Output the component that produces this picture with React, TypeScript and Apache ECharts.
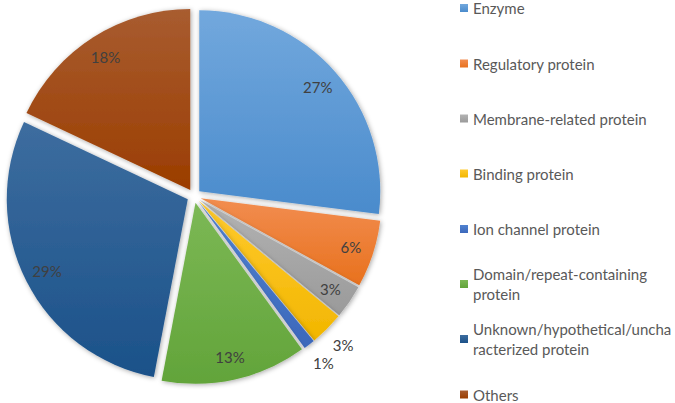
import React, { useEffect, useRef } from "react";
import * as echarts from "echarts";

const categories = [
  "Enzyme",
  "Regulatory protein",
  "Membrane-related protein",
  "Binding protein",
  "Ion channel protein",
  "Domain/repeat-containing protein",
  "Unknown/hypothetical/uncharacterized protein",
  "Others",
];
const legendLabels = [
  "Enzyme",
  "Regulatory protein",
  "Membrane-related protein",
  "Binding protein",
  "Ion channel protein",
  "Domain/repeat-containing\nprotein",
  "Unknown/hypothetical/uncha\nracterized protein",
  "Others",
];
const percentValues = [27, 6, 3, 3, 1, 13, 29, 18];
const topColors = ["#72a8dd", "#f28d50", "#b3b3b3", "#ffca2e", "#5082d0", "#7cb855", "#3d6d9f", "#a85c30"];
const bottomColors = ["#4a8bcc", "#e8711d", "#9a9a9a", "#f2b600", "#3c68bb", "#62a43a", "#1b5189", "#9b3d00"];
const outsideLabels = [false, false, false, true, true, false, false, false];

const CX = 194;
const CY = 196;
const R = 181;

export default function App() {
  const ref = useRef<HTMLDivElement>(null);
  useEffect(() => {
    if (!ref.current) return;
    const chart = echarts.init(ref.current, undefined, { renderer: "svg" });
    const font = "Lato, 'Open Sans', sans-serif";
    const fmt = (p: any) => Math.round(p.percent) + "%";

    const mainData = categories.map((name, i) => ({
      name,
      value: percentValues[i],
      selected: true,
      itemStyle: {
        color: {
          type: "linear",
          x: 0,
          y: 0,
          x2: 0,
          y2: 1,
          colorStops: [
            { offset: 0, color: topColors[i] },
            { offset: 1, color: bottomColors[i] },
          ],
        },
      },
    }));

    const labelData = (outside: boolean) =>
      categories.map((name, i) => ({
        name,
        value: percentValues[i],
        label: { show: outsideLabels[i] === outside },
      }));

    const labelSeries = (radius: number[], outside: boolean) => ({
      type: "pie",
      silent: true,
      center: [CX, CY],
      radius,
      startAngle: 90,
      clockwise: true,
      avoidLabelOverlap: false,
      itemStyle: { color: "rgba(0,0,0,0)", borderWidth: 0 },
      label: {
        position: "inside",
        formatter: fmt,
        color: "#404040",
        fontSize: 15,
        fontFamily: font,
      },
      labelLine: { show: false },
      emphasis: { disabled: true },
      data: labelData(outside),
    });

    const legendTops = [8.5, 64, 119, 174, 229.5, 284.5, 339.5, 395];
    const legends = categories.map((name, i) => {
      const twoLine = legendLabels[i].indexOf("\n") >= 0;
      return {
        data: [
          twoLine
            ? { name, textStyle: { padding: [20, 0, 0, 0] } }
            : { name },
        ],
        orient: "vertical",
        left: 455,
        top: legendTops[i] - (twoLine ? 30 : 10) - 5.5,
        itemWidth: 8,
        itemHeight: 8,
        icon: "rect",
        selectedMode: false,
        formatter: () => legendLabels[i],
        textStyle: {
          color: "#595959",
          fontSize: 15,
          fontFamily: font,
          lineHeight: 20,
        },
      };
    });

    chart.setOption({
      animation: false,
      backgroundColor: "#ffffff",
      legend: legends,
      series: [
        {
          type: "pie",
          center: [CX, CY],
          radius: [0, R],
          startAngle: 90,
          clockwise: true,
          selectedMode: "multiple",
          selectedOffset: 7,
          label: { show: false },
          labelLine: { show: false },
          emphasis: { disabled: true },
          itemStyle: {
            shadowBlur: 5,
            shadowColor: "rgba(0,0,0,0.35)",
            shadowOffsetX: 1,
            shadowOffsetY: 1,
          },
          data: mainData,
        },
        labelSeries([152, 172], false),
        labelSeries([198, 218], true),
      ],
    });
    return () => chart.dispose();
  }, []);
  return (
    <div
      ref={ref}
      style={{ position: "absolute", left: 0, top: 0, width: 675, height: 403 }}
    />
  );
}
